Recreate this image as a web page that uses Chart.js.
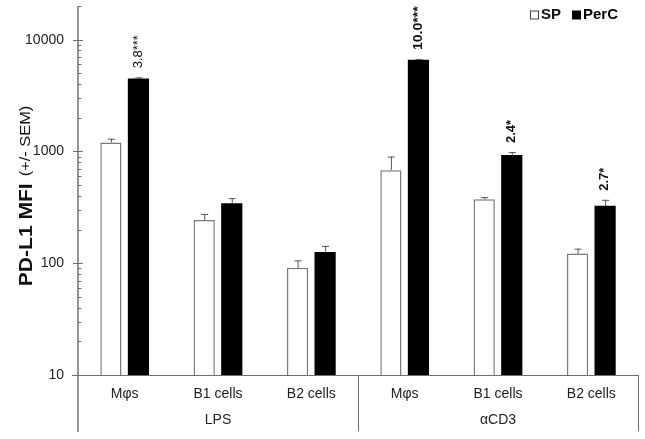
<!DOCTYPE html>
<html><head><meta charset="utf-8">
<script src="https://cdn.jsdelivr.net/npm/chart.js@4.4.0/dist/chart.umd.min.js"></script>
<style>html,body{margin:0;padding:0;background:#fff}</style>
</head><body>
<canvas id="c" width="645" height="439"></canvas>
<script>
// ---- data ----
const categories = ['Mφs', 'B1 cells', 'B2 cells', 'Mφs', 'B1 cells', 'B2 cells'];
const groups = ['LPS', 'αCD3'];
const groupSizes = [3, 3];
const seriesNames = ['SP', 'PerC'];
const spValues = [1200, 243, 91, 680, 374, 122];
const spSem = [100, 33, 15, 220, 16, 13];
const percValues = [4500, 344, 126, 6600, 927, 326];
const percSem = [100, 38, 17, 100, 60, 43];
const percLabels = ['3.8***', '', '', '10.0***', '2.4*', '2.7*'];
const yTickLabels = [10, 100, 1000, 10000];
const yMin = 10, yMax = 20000;
const yTitle = 'PD-L1 MFI';
const yTitleSub = '(+/- SEM)';

// ---- style ----
const F = '"Liberation Sans", Arial, sans-serif';
const AXIS = '#6e6e6e';
const labelFonts = ['normal 12px ' + F, '', '', 'bold 13px ' + F, 'bold 12px ' + F, 'bold 12px ' + F];

const semByDataset = [spSem, percSem];
const labelsByDataset = [null, percLabels];

const decorPlugin = {
  id: 'decor',
  afterDatasetsDraw(chart) {
    const ctx = chart.ctx;
    const ca = chart.chartArea;
    const ys = chart.scales.y, xs = chart.scales.x;
    ctx.save();
    // error bars and fold-change annotations
    chart.data.datasets.forEach((ds, di) => {
      const meta = chart.getDatasetMeta(di);
      meta.data.forEach((bar, i) => {
        const v = ds.data[i], s = semByDataset[di][i];
        const yTop = ys.getPixelForValue(v + s);
        ctx.strokeStyle = '#555';
        ctx.lineWidth = 1;
        ctx.beginPath();
        ctx.moveTo(bar.x + 0.5, bar.y);
        ctx.lineTo(bar.x + 0.5, yTop);
        ctx.moveTo(bar.x - 3, yTop + 0.5);
        ctx.lineTo(bar.x + 4, yTop + 0.5);
        ctx.stroke();
        const labs = labelsByDataset[di];
        if (labs && labs[i]) {
          ctx.save();
          ctx.translate(bar.x, yTop - 9);
          ctx.rotate(-Math.PI / 2);
          ctx.scale(1.08, 1);
          ctx.font = labelFonts[i];
          ctx.fillStyle = '#111';
          ctx.textAlign = 'left';
          ctx.textBaseline = 'middle';
          ctx.fillText(labs[i], 0, 0);
          ctx.restore();
        }
      });
    });
    // y axis line (extends through the category area)
    ctx.strokeStyle = AXIS;
    ctx.lineWidth = 1.5;
    ctx.beginPath();
    ctx.moveTo(ca.left, ca.top);
    ctx.lineTo(ca.left, 432);
    ctx.stroke();
    // baseline and group dividers
    ctx.lineWidth = 1;
    ctx.beginPath();
    ctx.moveTo(ca.left - 6, ca.bottom + 0.5);
    ctx.lineTo(ca.right, ca.bottom + 0.5);
    let idx = 0;
    const bounds = [ca.left];
    groupSizes.forEach((n) => {
      idx += n;
      if (idx < categories.length) {
        bounds.push((xs.getPixelForValue(idx - 1) + xs.getPixelForValue(idx)) / 2);
      } else {
        bounds.push(ca.right);
      }
    });
    bounds.slice(1).forEach(bx => {
      ctx.moveTo(Math.round(bx) + 0.5, ca.bottom);
      ctx.lineTo(Math.round(bx) + 0.5, 431);
    });
    ctx.stroke();
    // log tick marks
    ctx.beginPath();
    for (let e = Math.log10(yMin); e <= Math.log10(yMax); e++) {
      for (let m = 1; m <= 9; m++) {
        const v = m * Math.pow(10, e);
        if (v > yMax + 1e-6) break;
        const py = Math.round(ys.getPixelForValue(v)) + 0.5;
        if (m === 1) {
          ctx.moveTo(ca.left - 5, py); ctx.lineTo(ca.left + 5, py);
        } else {
          ctx.moveTo(ca.left, py); ctx.lineTo(ca.left + 3.5, py);
        }
      }
    }
    ctx.stroke();
    // group labels
    ctx.fillStyle = '#222';
    ctx.font = '14px ' + F;
    ctx.textAlign = 'center';
    ctx.textBaseline = 'middle';
    groups.forEach((g, gi) => {
      ctx.fillText(g, (bounds[gi] + bounds[gi + 1]) / 2, 420);
    });
    // legend
    ctx.font = 'bold 15px ' + F;
    ctx.textAlign = 'left';
    ctx.textBaseline = 'middle';
    const ly = 15;
    ctx.strokeStyle = '#444';
    ctx.fillStyle = '#fff';
    ctx.fillRect(530, ly - 4.5, 9, 9);
    ctx.strokeRect(530.5, ly - 4, 8, 8);
    ctx.fillStyle = '#111';
    ctx.fillText(seriesNames[0], 541, ly);
    ctx.fillStyle = '#000';
    ctx.fillRect(572, ly - 4.5, 9, 9);
    ctx.fillText(seriesNames[1], 583, ly);
    // y title
    ctx.save();
    ctx.translate(27, 0);
    ctx.rotate(-Math.PI / 2);
    ctx.fillStyle = '#111';
    const sx = 1.17;
    const f1 = 'bold 18px ' + F, f2 = '14px ' + F;
    ctx.font = f1; const w1 = ctx.measureText(yTitle).width * sx;
    ctx.font = f2; const w2 = ctx.measureText(yTitleSub).width * sx;
    const gap = 7;
    const total = w1 + gap + w2;
    const start = -(196 + total / 2);
    ctx.translate(start, 0);
    ctx.scale(sx, 1);
    ctx.textAlign = 'left';
    ctx.textBaseline = 'middle';
    ctx.font = f1; ctx.fillText(yTitle, 0, 0);
    ctx.font = f2; ctx.fillText(yTitleSub, (w1 + gap) / sx, -1);
    ctx.restore();
    ctx.restore();
  }
};

new Chart(document.getElementById('c'), {
  type: 'bar',
  data: {
    labels: categories,
    datasets: [
      { label: seriesNames[0], data: spValues, backgroundColor: '#ffffff', borderColor: '#7a7a7a', borderWidth: 1.5,
        categoryPercentage: 0.59, barPercentage: 0.77 },
      { label: seriesNames[1], data: percValues, backgroundColor: '#000000', borderColor: '#000000', borderWidth: 0,
        categoryPercentage: 0.59, barPercentage: 0.77 }
    ]
  },
  options: {
    responsive: false,
    animation: false,
    devicePixelRatio: 1,
    layout: { padding: { top: 6, right: 7, left: 0, bottom: 0 } },
    plugins: { legend: { display: false }, tooltip: { enabled: false } },
    scales: {
      x: {
        grid: { display: false, drawTicks: false },
        border: { display: false },
        ticks: { font: { family: F, size: 14 }, color: '#222', padding: 11, maxRotation: 0, autoSkip: false },
        afterFit(s) { s.height = 64; s.paddingLeft = 0; s.paddingRight = 0; }
      },
      y: {
        type: 'logarithmic',
        min: yMin, max: yMax,
        grid: { display: false, drawTicks: false },
        border: { display: false },
        ticks: {
          autoSkip: false,
          font: { family: F, size: 14 },
          color: '#222',
          padding: 14,
          callback(v) {
            const t = yTickLabels.find(t => Math.abs(t - v) / t < 1e-6);
            return t ? String(t) : null;
          }
        },
        afterFit(s) { s.width = 78; s.paddingTop = 0; s.paddingBottom = 0; }
      }
    }
  },
  plugins: [decorPlugin]
});
</script>
</body></html>
